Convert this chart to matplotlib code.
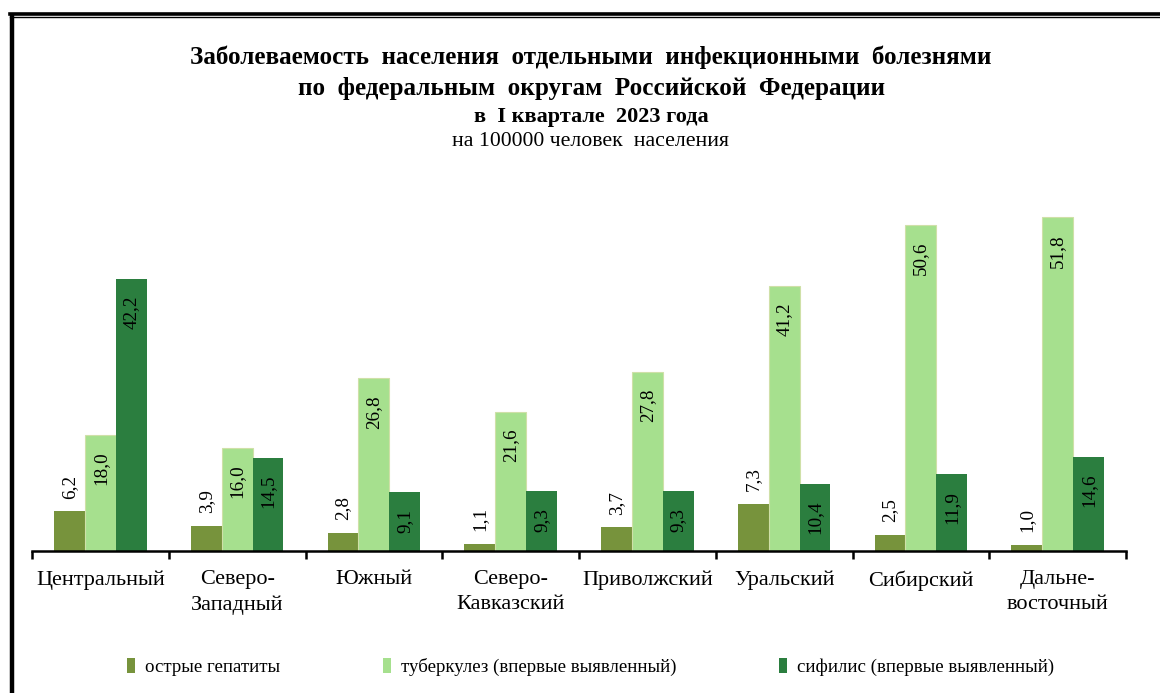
import matplotlib
matplotlib.use('Agg')
import matplotlib.pyplot as plt
from matplotlib.patches import Patch
from matplotlib.lines import Line2D
import numpy as np

plt.rcParams['font.family'] = ['Liberation Serif', 'DejaVu Serif']

districts = ['Центральный', 'Северо-\nЗападный', 'Южный', 'Северо-\nКавказский',
             'Приволжский', 'Уральский', 'Сибирский', 'Дальне-\nвосточный']
hepatitis = [6.2, 3.9, 2.8, 1.1, 3.7, 7.3, 2.5, 1.0]
tuberculosis = [18.0, 16.0, 26.8, 21.6, 27.8, 41.2, 50.6, 51.8]
syphilis = [42.2, 14.5, 9.1, 9.3, 9.3, 10.4, 11.9, 14.6]
series_names = ['острые гепатиты', 'туберкулез (впервые выявленный)',
                'сифилис (впервые выявленный)']
colors = ['#77933C', '#A6E08E', '#2B7E3F']

fig = plt.figure(figsize=(11.6, 6.93), dpi=100)
ax = fig.add_axes([32/1160, 1-551/693, (1126-32)/1160, 55*6.44/693])

x = np.arange(len(districts))
w = 0.226
bars_h = ax.bar(x - w, hepatitis, w, color=colors[0])
bars_t = ax.bar(x, tuberculosis, w, color=colors[1], edgecolor='#CFE0A8', linewidth=0.8)
bars_s = ax.bar(x + w, syphilis, w, color=colors[2])

def fmt(v):
    return f'{v:.1f}'.replace('.', ',')

# hepatitis labels sit above the bar, the other two inside near the top
for b, v in zip(bars_h, hepatitis):
    ax.annotate(fmt(v), (b.get_x() + b.get_width()/2, v), xytext=(0, 9),
                textcoords='offset points', rotation=90, ha='center', va='bottom',
                fontsize=13.8)
for bars, vals in ((bars_t, tuberculosis), (bars_s, syphilis)):
    for b, v in zip(bars, vals):
        ax.annotate(fmt(v), (b.get_x() + b.get_width()/2, v), xytext=(0, -12),
                    textcoords='offset points', rotation=90, ha='center', va='top',
                    fontsize=13.8)

ax.set_xlim(-0.5, len(districts) - 0.5)
ax.set_ylim(0, 55)
for s in ('top', 'right', 'left'):
    ax.spines[s].set_visible(False)
ax.spines['bottom'].set_linewidth(1.8)
ax.set_yticks([])
ax.set_xticks(x)
ax.set_xticklabels(districts, fontsize=16, linespacing=1.4)
ax.tick_params(axis='x', length=0, pad=14)
ax.set_xticks(np.arange(-0.5, len(districts)), minor=True)
ax.tick_params(axis='x', which='minor', length=6, width=1.8, direction='out')

cx = 591/1160
fig.text(cx, 1-57/693, 'Заболеваемость  населения  отдельными  инфекционными  болезнями',
         ha='center', va='center', fontsize=18.1, fontweight='bold')
fig.text(cx, 1-88/693, 'по  федеральным  округам  Российской  Федерации',
         ha='center', va='center', fontsize=18.1, fontweight='bold')
fig.text(cx, 1-117/693, 'в  I квартале  2023 года', ha='center', va='center',
         fontsize=16, fontweight='bold')
fig.text(cx, 1-141/693, 'на 100000 человек  населения', ha='center', va='center',
         fontsize=15.7)

# legend entries placed separately like the original
leg_x = [127, 383, 779]
for name, c, lx in zip(series_names, colors, leg_x):
    fig.legend([Patch(facecolor=c)], [name], loc='center left',
               bbox_to_anchor=(lx/1160, 1-667/693), frameon=False, fontsize=13.6,
               handlelength=0.4, handleheight=0.8, handletextpad=0.55,
               borderpad=0, borderaxespad=0)

# frame: double line on top, thick line at left
fig.add_artist(Line2D([9.8/1160, 1], [1-13.5/693]*2, color='black', lw=2.6))
fig.add_artist(Line2D([9.8/1160, 1], [1-16.8/693]*2, color='black', lw=1.0))
fig.add_artist(Line2D([11.5/1160]*2, [0, 1-12.5/693], color='black', lw=3.2,
                      solid_capstyle='butt'))

fig.savefig('out.png', dpi=100)
